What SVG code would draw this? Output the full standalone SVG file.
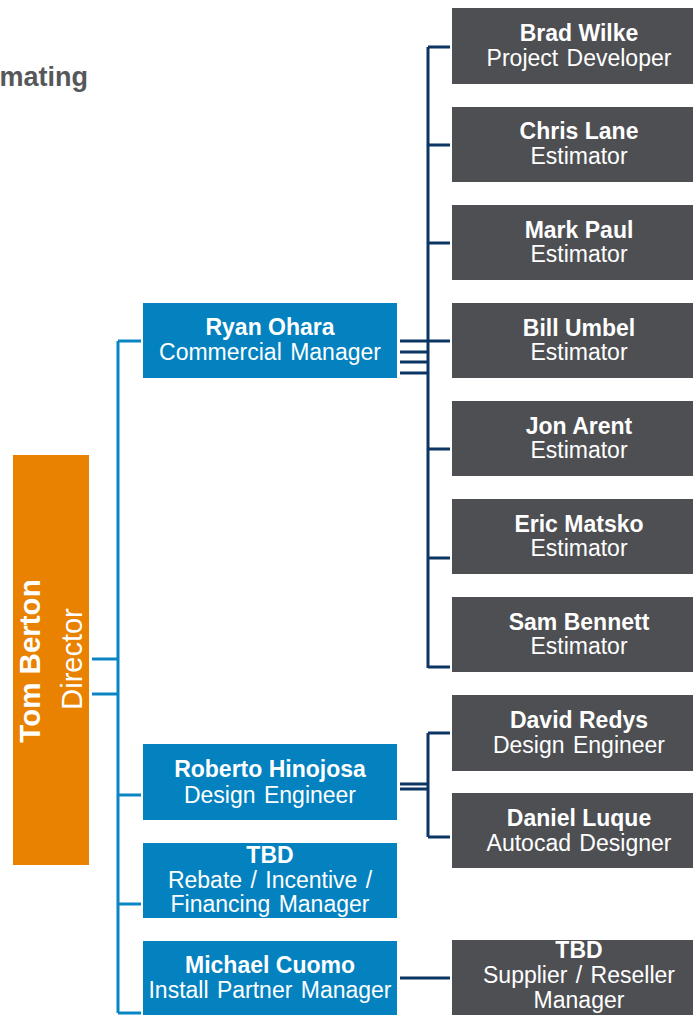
<svg xmlns="http://www.w3.org/2000/svg" width="693" height="1015" viewBox="0 0 693 1015">
<style>
.gray{fill:#4e4f53}
.blue{fill:#0482c0}
.orange{fill:#e88200}
text{font-family:"Liberation Sans",Arial,sans-serif;fill:#ffffff;text-anchor:middle}
.n{font-weight:bold;font-size:23px}
.r{font-size:23px;word-spacing:2px}
.bl{stroke:#0a85c4;stroke-width:3;fill:none}
.dk{stroke:#0b3563;stroke-width:3;fill:none}
</style>
<rect width="693" height="1015" fill="#ffffff"/>
<text x="88" y="86" style="fill:#56575a;font-weight:bold;font-size:27px;text-anchor:end">mating</text>
<g id="connectors">
<path class="bl" d="M118 341V1013M118 341H141M92 659H118M92 694H118M118 795H141M118 904H141M118 1013H141"/>
<path class="dk" d="M428 47V668M428 47H450M428 145H450M428 243H450M428 341H450M428 449H450M428 558H450M428 667H450M400 341H428M400 352H428M400 362H428M400 373H428"/>
<path class="dk" d="M428 733V837M428 733H450M428 837H450M400 784H428M400 789H428"/>
<path class="dk" d="M400 978H450"/>
</g>
<g id="tom">
<rect class="orange" x="13" y="455" width="76" height="410"/>
<text class="n" style="font-size:29.5px" transform="translate(40 661) rotate(-90)">Tom Berton</text>
<text class="r" style="font-size:29px" transform="translate(82 659) rotate(-90)">Director</text>
</g>
<g id="ryan">
<rect class="blue" x="143" y="303" width="254" height="75"/>
<text class="n" x="270" y="335">Ryan Ohara</text>
<text class="r" x="270" y="360">Commercial Manager</text>
</g>
<g id="roberto">
<rect class="blue" x="143" y="744" width="254" height="76"/>
<text class="n" x="270" y="777">Roberto Hinojosa</text>
<text class="r" x="270" y="803">Design Engineer</text>
</g>
<g id="tbd-rebate">
<rect class="blue" x="143" y="843" width="254" height="75"/>
<text class="n" x="270" y="863">TBD</text>
<text class="r" x="270" y="888">Rebate / Incentive /</text>
<text class="r" x="270" y="912">Financing Manager</text>
</g>
<g id="michael">
<rect class="blue" x="143" y="941" width="254" height="80"/>
<text class="n" x="270" y="973">Michael Cuomo</text>
<text class="r" x="270" y="998">Install Partner Manager</text>
</g>
<g id="brad">
<rect class="gray" x="452" y="8" width="254" height="76"/>
<text class="n" x="579" y="41">Brad Wilke</text>
<text class="r" x="579" y="66">Project Developer</text>
</g>
<g id="chris">
<rect class="gray" x="452" y="107" width="254" height="75"/>
<text class="n" x="579" y="139">Chris Lane</text>
<text class="r" x="579" y="164">Estimator</text>
</g>
<g id="mark">
<rect class="gray" x="452" y="205" width="254" height="75"/>
<text class="n" x="579" y="238">Mark Paul</text>
<text class="r" x="579" y="262">Estimator</text>
</g>
<g id="bill">
<rect class="gray" x="452" y="303" width="254" height="75"/>
<text class="n" x="579" y="336">Bill Umbel</text>
<text class="r" x="579" y="360">Estimator</text>
</g>
<g id="jon">
<rect class="gray" x="452" y="401" width="254" height="75"/>
<text class="n" x="579" y="434">Jon Arent</text>
<text class="r" x="579" y="458">Estimator</text>
</g>
<g id="eric">
<rect class="gray" x="452" y="499" width="254" height="75"/>
<text class="n" x="579" y="532">Eric Matsko</text>
<text class="r" x="579" y="556">Estimator</text>
</g>
<g id="sam">
<rect class="gray" x="452" y="597" width="254" height="75"/>
<text class="n" x="579" y="630">Sam Bennett</text>
<text class="r" x="579" y="654">Estimator</text>
</g>
<g id="david">
<rect class="gray" x="452" y="695" width="254" height="76"/>
<text class="n" x="579" y="728">David Redys</text>
<text class="r" x="579" y="753">Design Engineer</text>
</g>
<g id="daniel">
<rect class="gray" x="452" y="793" width="254" height="75"/>
<text class="n" x="579" y="826">Daniel Luque</text>
<text class="r" x="579" y="851">Autocad Designer</text>
</g>
<g id="tbd-supplier">
<rect class="gray" x="452" y="940" width="254" height="80"/>
<text class="n" x="579" y="958">TBD</text>
<text class="r" x="579" y="983">Supplier / Reseller</text>
<text class="r" x="579" y="1008">Manager</text>
</g>
</svg>
